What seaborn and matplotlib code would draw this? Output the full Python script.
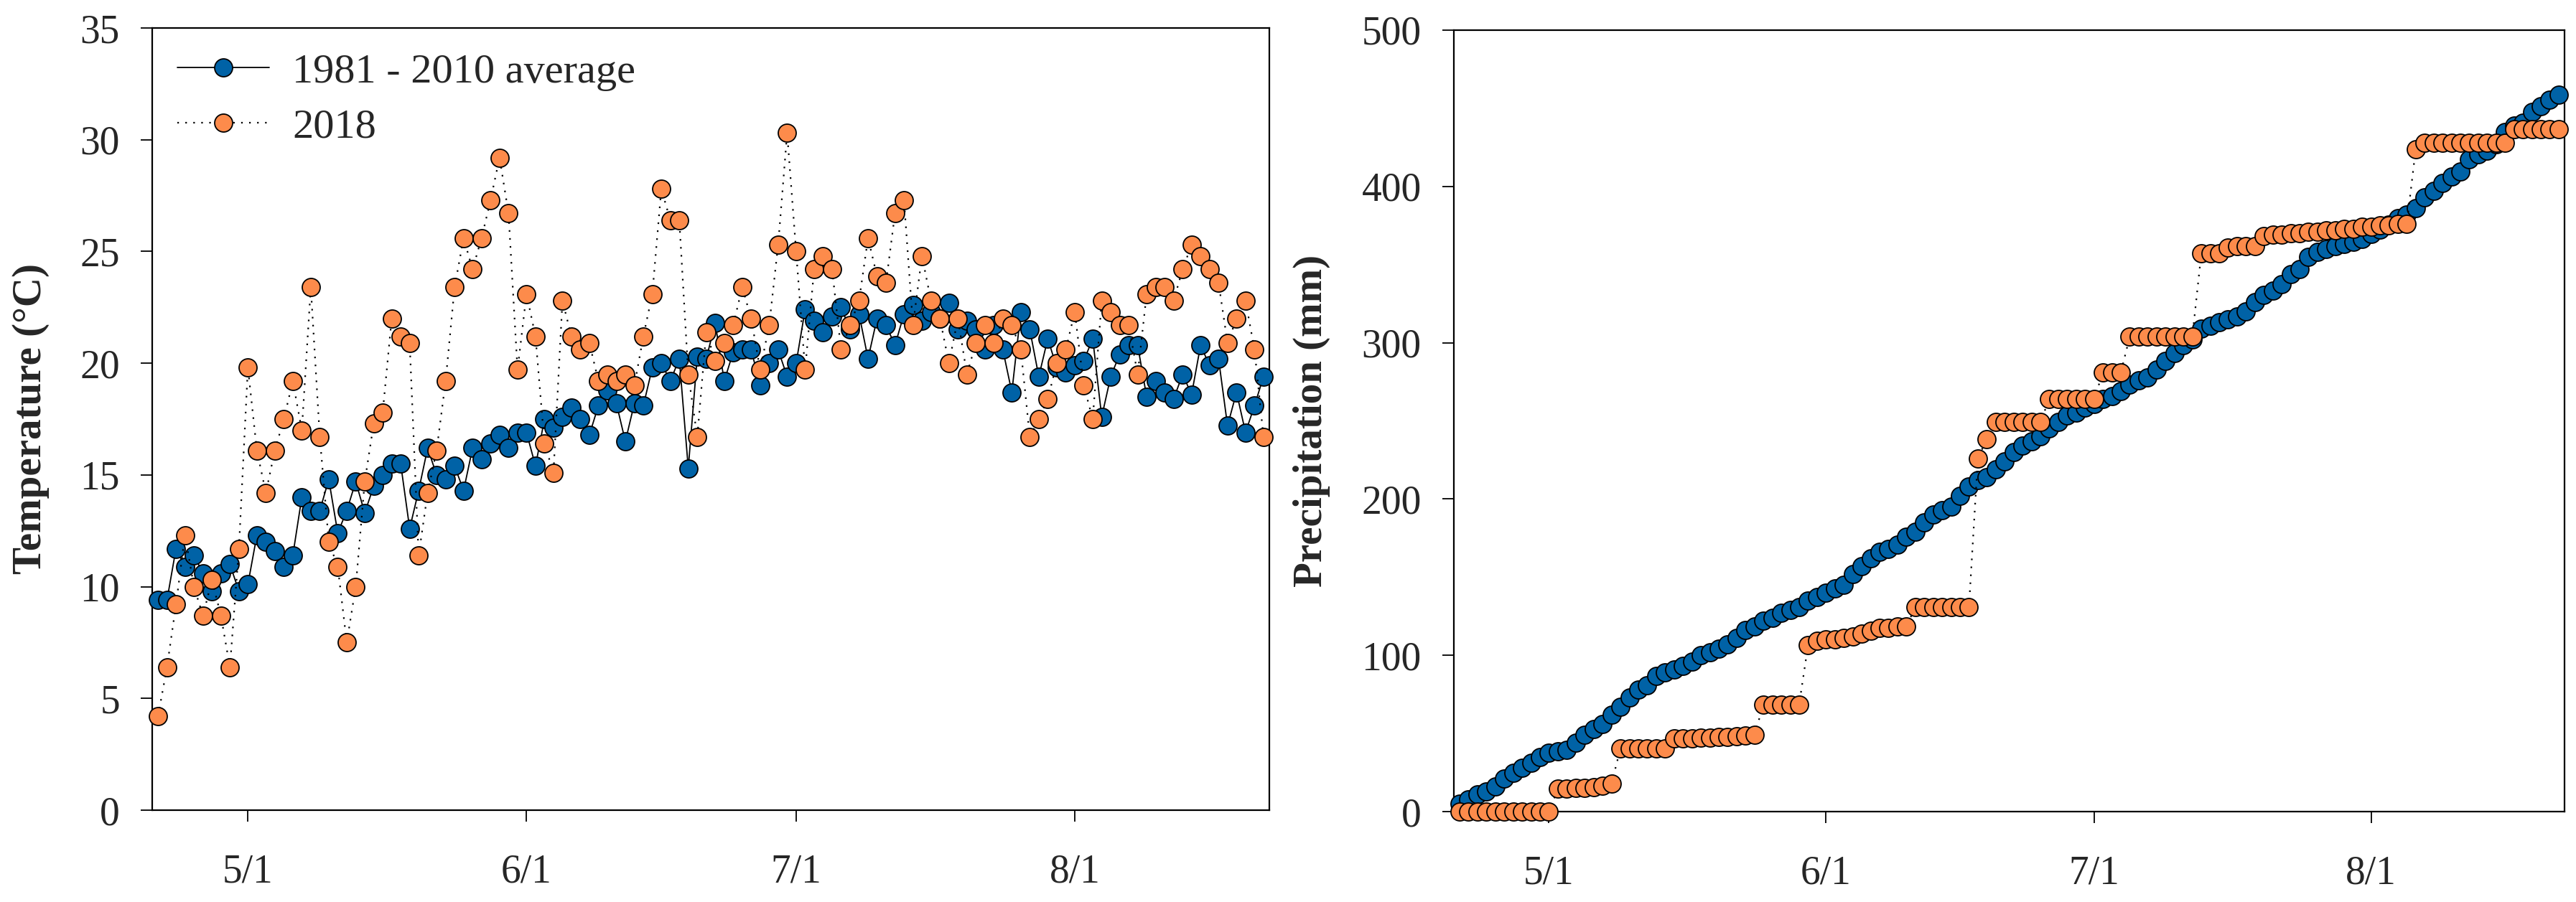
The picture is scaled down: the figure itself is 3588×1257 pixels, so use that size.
import numpy as np
import pandas as pd
import matplotlib
matplotlib.use("Agg")
import matplotlib.pyplot as plt
import seaborn as sns
from matplotlib.lines import Line2D

sns.set_theme(style="white")
plt.rcParams['font.family'] = ['Liberation Serif', 'DejaVu Serif']

# ---------------- data ----------------
start_date = "2018-04-21"

temp_avg = [
    9.4, 9.4, 11.7, 10.9, 11.4, 10.6, 9.8, 10.6, 11.0, 9.8,
    10.1, 12.3, 12.0, 11.6, 10.9, 11.4, 14.0, 13.4, 13.4, 14.8,
    12.4, 13.4, 14.7, 13.3, 14.5, 15.0, 15.5, 15.5, 12.6, 14.3,
    16.2, 15.0, 14.8, 15.4, 14.3, 16.2, 15.7, 16.4, 16.8, 16.2,
    16.9, 16.9, 15.4, 17.5, 17.1, 17.6, 18.0, 17.5, 16.8, 18.1,
    18.8, 18.2, 16.5, 18.2, 18.1, 19.8, 20.0, 19.2, 20.2, 15.3,
    20.3, 20.2, 21.8, 19.2, 20.5, 20.6, 20.6, 19.0, 20.0, 20.6,
    19.4, 20.0, 22.4, 21.9, 21.4, 22.1, 22.5, 21.5, 22.2, 20.2,
    22.0, 21.7, 20.8, 22.2, 22.6, 21.9, 22.3, 22.0, 22.7, 21.5,
    21.9, 21.5, 20.6, 21.7, 20.6, 18.7, 22.3, 21.5, 19.4, 21.1,
    19.8, 19.6, 19.9, 20.1, 21.1, 17.6, 19.4, 20.4, 20.8, 20.8,
    18.5, 19.2, 18.7, 18.4, 19.5, 18.6, 20.8, 19.9, 20.2, 17.2,
    18.7, 16.9, 18.1, 19.4,
]

temp_2018 = [
    4.2, 6.4, 9.2, 12.3, 10.0, 8.7, 10.3, 8.7, 6.4, 11.7,
    19.8, 16.1, 14.2, 16.1, 17.5, 19.2, 17.0, 23.4, 16.7, 12.0,
    10.9, 7.5, 10.0, 14.7, 17.3, 17.8, 22.0, 21.2, 20.9, 11.4,
    14.2, 16.1, 19.2, 23.4, 25.6, 24.2, 25.6, 27.3, 29.2, 26.7,
    19.7, 23.1, 21.2, 16.4, 15.1, 22.8, 21.2, 20.6, 20.9, 19.2,
    19.5, 19.2, 19.5, 19.0, 21.2, 23.1, 27.8, 26.4, 26.4, 19.5,
    16.7, 21.4, 20.1, 20.9, 21.7, 23.4, 22.0, 19.7, 21.7, 25.3,
    30.3, 25.0, 19.7, 24.2, 24.8, 24.2, 20.6, 21.7, 22.8, 25.6,
    23.9, 23.6, 26.7, 27.3, 21.7, 24.8, 22.8, 22.0, 20.0, 22.0,
    19.5, 20.9, 21.7, 20.9, 22.0, 21.7, 20.6, 16.7, 17.5, 18.4,
    20.0, 20.6, 22.3, 19.0, 17.5, 22.8, 22.3, 21.7, 21.7, 19.5,
    23.1, 23.4, 23.4, 22.8, 24.2, 25.3, 24.8, 24.2, 23.6, 20.9,
    22.0, 22.8, 20.6, 16.7,
]

precip_avg = [
    5, 8, 11, 13, 16, 21, 25, 28, 31, 35,
    37.5, 38.5, 39.5, 44, 49, 53, 56, 62, 67, 73,
    78, 81, 87, 89, 91, 93, 96, 100, 102, 104,
    107, 111, 116, 118.5, 122, 124, 127, 129, 131, 135,
    137.5, 140, 143, 145, 152, 157, 162, 166, 168, 171,
    176, 179, 185, 190, 193, 195, 202, 208, 212, 214,
    219, 224, 230, 234, 237, 240, 245, 249.5, 253.5, 255.5,
    258.5, 261, 264, 266, 269, 273, 276, 278, 283, 288.5,
    293.5, 298.5, 302, 309, 311, 313, 315, 317, 320, 326,
    330.5, 333.5, 337.5, 344, 347, 355, 358, 360, 362, 363,
    364.5, 366.5, 369.5, 372.5, 375.5, 379.5, 382, 386, 393, 397,
    402, 406.5, 409.5, 417.5, 420.5, 423, 427, 435, 439, 441,
    447.5, 451.5, 455.5, 458.5,
]

precip_2018 = [
    0, 0, 0, 0, 0, 0, 0, 0, 0, 0,
    0, 14.7, 14.7, 15, 15.3, 15.6, 16.5, 17.9, 40.4, 40.4,
    40.4, 40.4, 40.4, 40.4, 47, 47, 47, 47.2, 47.4, 47.6,
    47.8, 48, 48.5, 49, 68.6, 68.6, 68.6, 68.6, 68.6, 106.7,
    109.3, 110, 110, 111, 112, 113.7, 115.6, 117.5, 117.5, 118.5,
    118.5, 130.9, 130.9, 130.9, 130.9, 130.9, 130.9, 130.9, 226, 238.5,
    249.5, 249.5, 249.5, 249.5, 249.5, 249.5, 264, 264, 264, 264,
    264, 264, 281, 281, 281, 304, 304, 304, 304, 304,
    304, 304, 304, 357, 357, 357, 361, 362, 362, 362,
    368, 369, 369, 370, 370, 371, 371, 372, 372, 373,
    373, 374, 374, 375, 375, 376, 376, 424, 428, 428,
    428, 428, 428, 428, 428, 428, 428, 428, 436.7, 436.7,
    436.7, 436.7, 436.7, 436.7,
]

series_labels = ["1981 - 2010 average", "2018"]
tick_dates = ["2018-05-01", "2018-06-01", "2018-07-01", "2018-08-01"]
tick_labels = ["5/1", "6/1", "7/1", "8/1"]

# ---------------- styling ----------------
BLUE = "#0062A6"
ORANGE = "#FD8B4B"
FS = 40
MS = 18
DOTTED = (0, (1, 4))

dates = pd.date_range(start_date, periods=len(temp_avg), freq="D")
df_t = pd.DataFrame({"date": dates, "avg": temp_avg, "y2018": temp_2018})
df_p = pd.DataFrame({"date": dates, "avg": precip_avg, "y2018": precip_2018})

W, H = 3588, 1257
fig = plt.figure(figsize=(W / 100, H / 100), dpi=100)
ax1 = fig.add_axes([212 / W, (H - 1129) / H, 1556 / W, 1090 / H])
ax2 = fig.add_axes([2025 / W, (H - 1131) / H, 1547 / W, 1089 / H])


def draw(ax, df):
    sns.lineplot(data=df, x="date", y="avg", ax=ax, color="black", lw=1.3,
                 marker="o", markersize=MS, markerfacecolor=BLUE,
                 markeredgecolor="black", markeredgewidth=1.3, legend=False,
                 clip_on=False, zorder=3)
    sns.lineplot(data=df, x="date", y="y2018", ax=ax, color="black", lw=1.6,
                 linestyle=DOTTED, marker="o", markersize=MS,
                 markerfacecolor=ORANGE, markeredgecolor="black",
                 markeredgewidth=1.3, legend=False, clip_on=False, zorder=4)
    d0 = df["date"].iloc[0]
    ax.set_xlim(d0 - pd.Timedelta(hours=15.5), d0 + pd.Timedelta(hours=24 * 123.65))
    ax.set_xticks(pd.to_datetime(tick_dates))
    ax.set_xticklabels(tick_labels)
    ax.set_xlabel("")
    for s in ax.spines.values():
        s.set_visible(True)
        s.set_color("black")
        s.set_linewidth(1.6)
        s.set_zorder(2)
    ax.tick_params(axis="both", which="major", direction="out", length=11.5,
                   width=1.3, color="black", labelsize=FS, left=True,
                   bottom=True, right=False, top=False)
    ax.tick_params(axis="x", pad=32)
    ax.tick_params(axis="y", pad=21)
    ax.grid(False)
    ax.set_facecolor("white")


draw(ax1, df_t)
ax1.set_ylim(0, 35)
ax1.set_yticks(np.arange(0, 36, 5))
ax1.set_ylabel("Temperature (\u00b0C)", fontsize=41, fontweight="bold")
ax1.yaxis.set_label_coords(-0.092, 0.5)

draw(ax2, df_p)
ax2.set_ylim(0, 500)
ax2.set_yticks(np.arange(0, 501, 100))
ax2.set_ylabel("Precipitation (mm)", fontsize=41, fontweight="bold")
ax2.yaxis.set_label_coords(-0.111, 0.5)

handles = [
    Line2D([], [], color="black", lw=1.3, marker="o", markersize=MS,
           markerfacecolor=BLUE, markeredgecolor="black", markeredgewidth=1.3),
    Line2D([], [], color="black", lw=1.6, linestyle=DOTTED, marker="o",
           markersize=MS, markerfacecolor=ORANGE, markeredgecolor="black",
           markeredgewidth=1.3),
]
ax1.legend(handles, series_labels, loc="upper left", frameon=False,
           fontsize=42, handlelength=2.2, handletextpad=0.55, numpoints=1,
           labelspacing=0.4, borderaxespad=0.3, borderpad=0.3)

fig.savefig("out.png", dpi=100, facecolor="white")
